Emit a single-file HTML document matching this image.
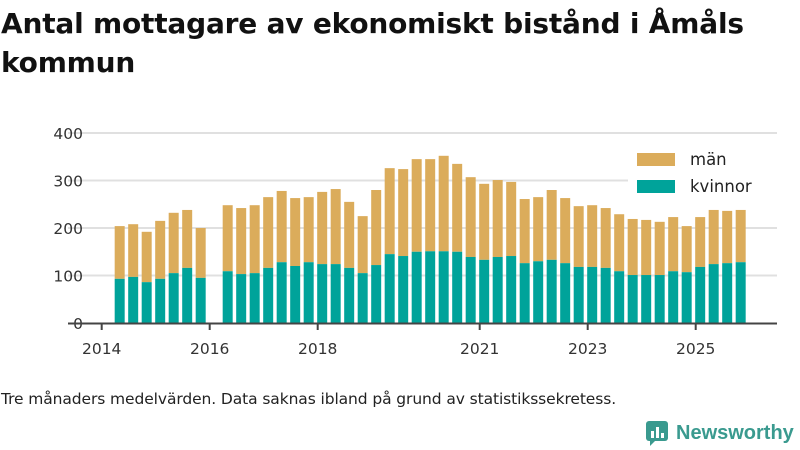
<!DOCTYPE html>
<html><head><meta charset="utf-8"><style>
body{margin:0;background:#fff;width:800px;height:450px;overflow:hidden;font-family:"DejaVu Sans","Liberation Sans",sans-serif;}
h1{position:absolute;left:1px;top:4px;margin:0;font-size:28px;line-height:39px;font-weight:bold;color:#111;width:760px;letter-spacing:-0.2px;}
.note{position:absolute;left:1px;top:390px;font-size:15.5px;color:#222;letter-spacing:-0.1px;}
.logo{position:absolute;left:645px;top:420px;display:flex;align-items:center;}
</style></head><body>
<h1>Antal mottagare av ekonomiskt bistånd i Åmåls kommun</h1>
<svg id="chart" width="800" height="450" style="position:absolute;left:0;top:0;font-family:'DejaVu Sans','Liberation Sans',sans-serif"></svg>
<div class="note">Tre månaders medelvärden. Data saknas ibland på grund av statistikssekretess.</div>
<div class="logo">
<svg width="26" height="26" viewBox="0 0 26 26"><rect x="1" y="1" width="22" height="20" rx="3" fill="#3a9a8f"/><path d="M5 21 L5 26 L10 21Z" fill="#3a9a8f"/><rect x="6" y="11" width="3" height="7" fill="#fff"/><rect x="11" y="7" width="3" height="11" fill="#fff"/><rect x="16" y="13" width="3" height="5" fill="#fff"/></svg>
<span style="font-size:20px;color:#3a9a8f;font-weight:bold;margin-left:5px;font-family:'Liberation Sans',sans-serif">Newsworthy</span></div>
<script>
const startYear = 2014.333; // first bar: 2014 Q2
const women = [93,97,86,93,105,116,95,null,109,103,105,116,128,120,128,124,124,116,105,122,145,141,150,151,151,150,139,133,139,141,126,130,133,126,118,118,116,109,101,101,101,109,107,118,124,126,128];
const men = [111,111,106,122,127,122,105,null,139,139,143,149,150,143,137,152,158,139,120,158,181,183,195,194,201,185,168,160,162,156,135,135,147,137,128,130,126,120,118,116,112,114,97,105,114,110,110];
const yTicks = [0,100,200,300,400];
const xTicks = [2014,2016,2018,2021,2023,2025];
const NS="http://www.w3.org/2000/svg";
const svg=document.getElementById('chart');
const x=v=>101.7+(v-2014)*54;
const y=v=>323-v*0.475;
function el(t,a){const e=document.createElementNS(NS,t);for(const k in a)e.setAttribute(k,a[k]);svg.appendChild(e);return e;}
yTicks.forEach(t=>{
 if(t>0){const g=el('line',{x1:68,x2:777,y1:y(t),y2:y(t),stroke:'#e0e0e0','stroke-width':2});
 
 }
 const l=el('text',{x:83,y:y(t)+6,'text-anchor':'end','font-size':15.5,fill:'#333'});l.textContent=t;
 
 
});
women.forEach((w,i)=>{
 if(w==null)return;
 const cx=x(startYear+i*0.25);
 const tot=w+men[i];
 const r1=el('rect',{x:cx-5,y:y(tot),width:10,height:y(w)-y(tot),fill:'#dbac5b'});
 
 
 const r2=el('rect',{x:cx-5,y:y(w),width:10,height:y(0)-y(w),fill:'#00a39a'});
 
 
});
const ax=el('line',{x1:68,x2:777,y1:323.5,y2:323.5,stroke:'#444','stroke-width':2});


xTicks.forEach(t=>{
 const tk=el('line',{x1:x(t),x2:x(t),y1:323,y2:330,stroke:'#444','stroke-width':2});
 
 
 const l=el('text',{x:x(t),y:354,'text-anchor':'middle','font-size':15.5,fill:'#333'});l.textContent=t;
 
 
});
const bg=el('rect',{x:628,y:146,width:150,height:52,fill:'#fff'});


[['män','#dbac5b',153],['kvinnor','#00a39a',180]].forEach(([n,c,yy])=>{
 const r=el('rect',{x:637,y:yy,width:38,height:13,fill:c});
 
 
 const t=el('text',{x:690,y:yy+12,'font-size':16.5,fill:'#222'});t.textContent=n;
 
 
});
</script>
</body></html>
